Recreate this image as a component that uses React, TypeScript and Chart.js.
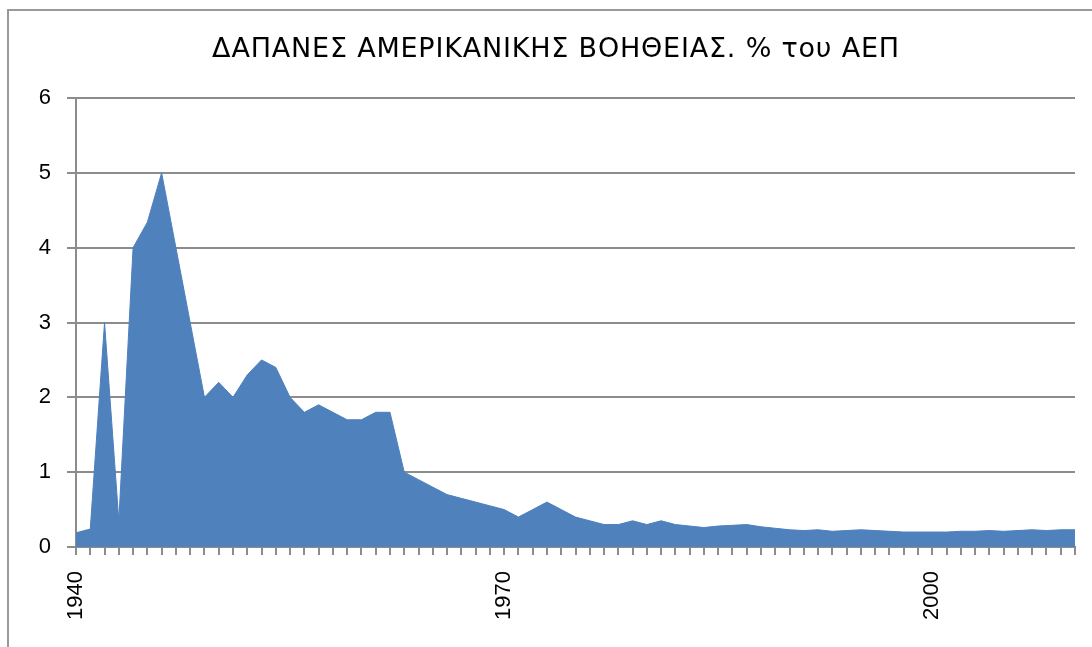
import React, { useEffect, useRef } from "react";
import { Chart, registerables } from "chart.js";

Chart.register(...registerables);

const TITLE = "ΔΑΠΑΝΕΣ ΑΜΕΡΙΚΑΝΙΚΗΣ ΒΟΗΘΕΙΑΣ. % του ΑΕΠ";

const years: string[] = [
  "1940", "1941", "1942", "1943", "1944", "1945", "1946", "1947", "1948", "1949",
  "1950", "1951", "1952", "1953", "1954", "1955", "1956", "1957", "1958", "1959",
  "1960", "1961", "1962", "1963", "1964", "1965", "1966", "1967", "1968", "1969",
  "1970", "1971", "1972", "1973", "1974", "1975", "1976", "1977", "1978", "1979",
  "1980", "1981", "1982", "1983", "1984", "1985", "1986", "1987", "1988", "1989",
  "1990", "1991", "1992", "1993", "1994", "1995", "1996", "1997", "1998", "1999",
  "2000", "2001", "2002", "2003", "2004", "2005", "2006", "2007", "2008", "2009",
  "2010",
];

const aidPctGdp: number[] = [
  0.19, 0.24, 3.0, 0.35, 4.0, 4.34, 5.0, 4.0, 3.0, 2.0,
  2.2, 2.0, 2.3, 2.5, 2.4, 2.0, 1.8, 1.9, 1.8, 1.7,
  1.7, 1.8, 1.8, 1.0, 0.9, 0.8, 0.7, 0.65, 0.6, 0.55,
  0.5, 0.4, 0.5, 0.6, 0.5, 0.4, 0.35, 0.3, 0.3, 0.35,
  0.3, 0.35, 0.3, 0.28, 0.26, 0.28, 0.29, 0.3, 0.27, 0.25,
  0.23, 0.22, 0.23, 0.21, 0.22, 0.23, 0.22, 0.21, 0.2, 0.2,
  0.2, 0.2, 0.21, 0.21, 0.22, 0.21, 0.22, 0.23, 0.22, 0.23,
  0.23,
];

const shownYearLabels: string[] = ["1940", "1970", "2000"];

const FONT = "'Liberation Sans', Arial, sans-serif";
const TITLE_FONT = "'DejaVu Sans', 'Liberation Sans', sans-serif";
const GRID = "#8c8c8c";

export default function App() {
  const ref = useRef<HTMLCanvasElement | null>(null);

  useEffect(() => {
    document.body.style.margin = "0";
    document.body.style.overflow = "hidden";
    const canvas = ref.current;
    if (!canvas) return;

    const titlePlugin = {
      id: "customTitle",
      afterDraw(chart: any) {
        const ctx = chart.ctx;
        ctx.save();
        ctx.fillStyle = "#000";
        ctx.font = `27px ${TITLE_FONT}`;
        (ctx as any).letterSpacing = "0.8px";
        ctx.textAlign = "center";
        ctx.textBaseline = "middle";
        ctx.fillText(TITLE, 556, 50);
        ctx.restore();
      },
    };

    const chart = new Chart(canvas, {
      type: "line",
      data: {
        labels: years,
        datasets: [
          {
            data: aidPctGdp,
            backgroundColor: "#4F81BD",
            borderColor: "#4F81BD",
            borderWidth: 1,
            fill: "origin",
            pointRadius: 0,
            tension: 0,
          },
        ],
      },
      options: {
        responsive: false,
        animation: false,
        layout: { padding: { left: 8, right: 17, top: 98, bottom: 0 } },
        plugins: {
          legend: { display: false },
          title: { display: false },
          tooltip: { enabled: false },
        },
        scales: {
          x: {
            type: "category",
            offset: false,
            afterFit(scale: any) {
              scale.height = 100;
              scale.paddingLeft = 0;
              scale.paddingRight = 0;
            },
            grid: {
              drawOnChartArea: false,
              drawTicks: true,
              tickLength: 8,
              color: GRID,
              lineWidth: 2,
            },
            border: { color: GRID, width: 2 },
            ticks: {
              autoSkip: false,
              minRotation: 90,
              maxRotation: 90,
              padding: 16,
              color: "#000",
              font: { family: FONT, size: 22 },
              callback(_v: any, i: number) {
                const y = years[i];
                return shownYearLabels.includes(y) ? y : "";
              },
            },
          },
          y: {
            min: 0,
            max: 6,
            afterFit(scale: any) {
              scale.width = 68;
            },
            grid: {
              color: GRID,
              lineWidth: 2,
              drawTicks: true,
              tickLength: 9,
            },
            border: { color: GRID, width: 2 },
            ticks: {
              stepSize: 1,
              padding: 16,
              color: "#000",
              font: { family: FONT, size: 22 },
            },
          },
        },
      },
      plugins: [titlePlugin],
    });

    return () => chart.destroy();
  }, []);

  return (
    <div style={{ position: "relative", width: 1092, height: 647, overflow: "hidden" }}>
      <canvas ref={ref} width={1092} height={647} style={{ display: "block" }} />
      <div
        style={{
          position: "absolute",
          left: 7,
          top: 9,
          width: 1200,
          height: 800,
          border: "2px solid #9a9a9a",
          pointerEvents: "none",
        }}
      />
    </div>
  );
}
